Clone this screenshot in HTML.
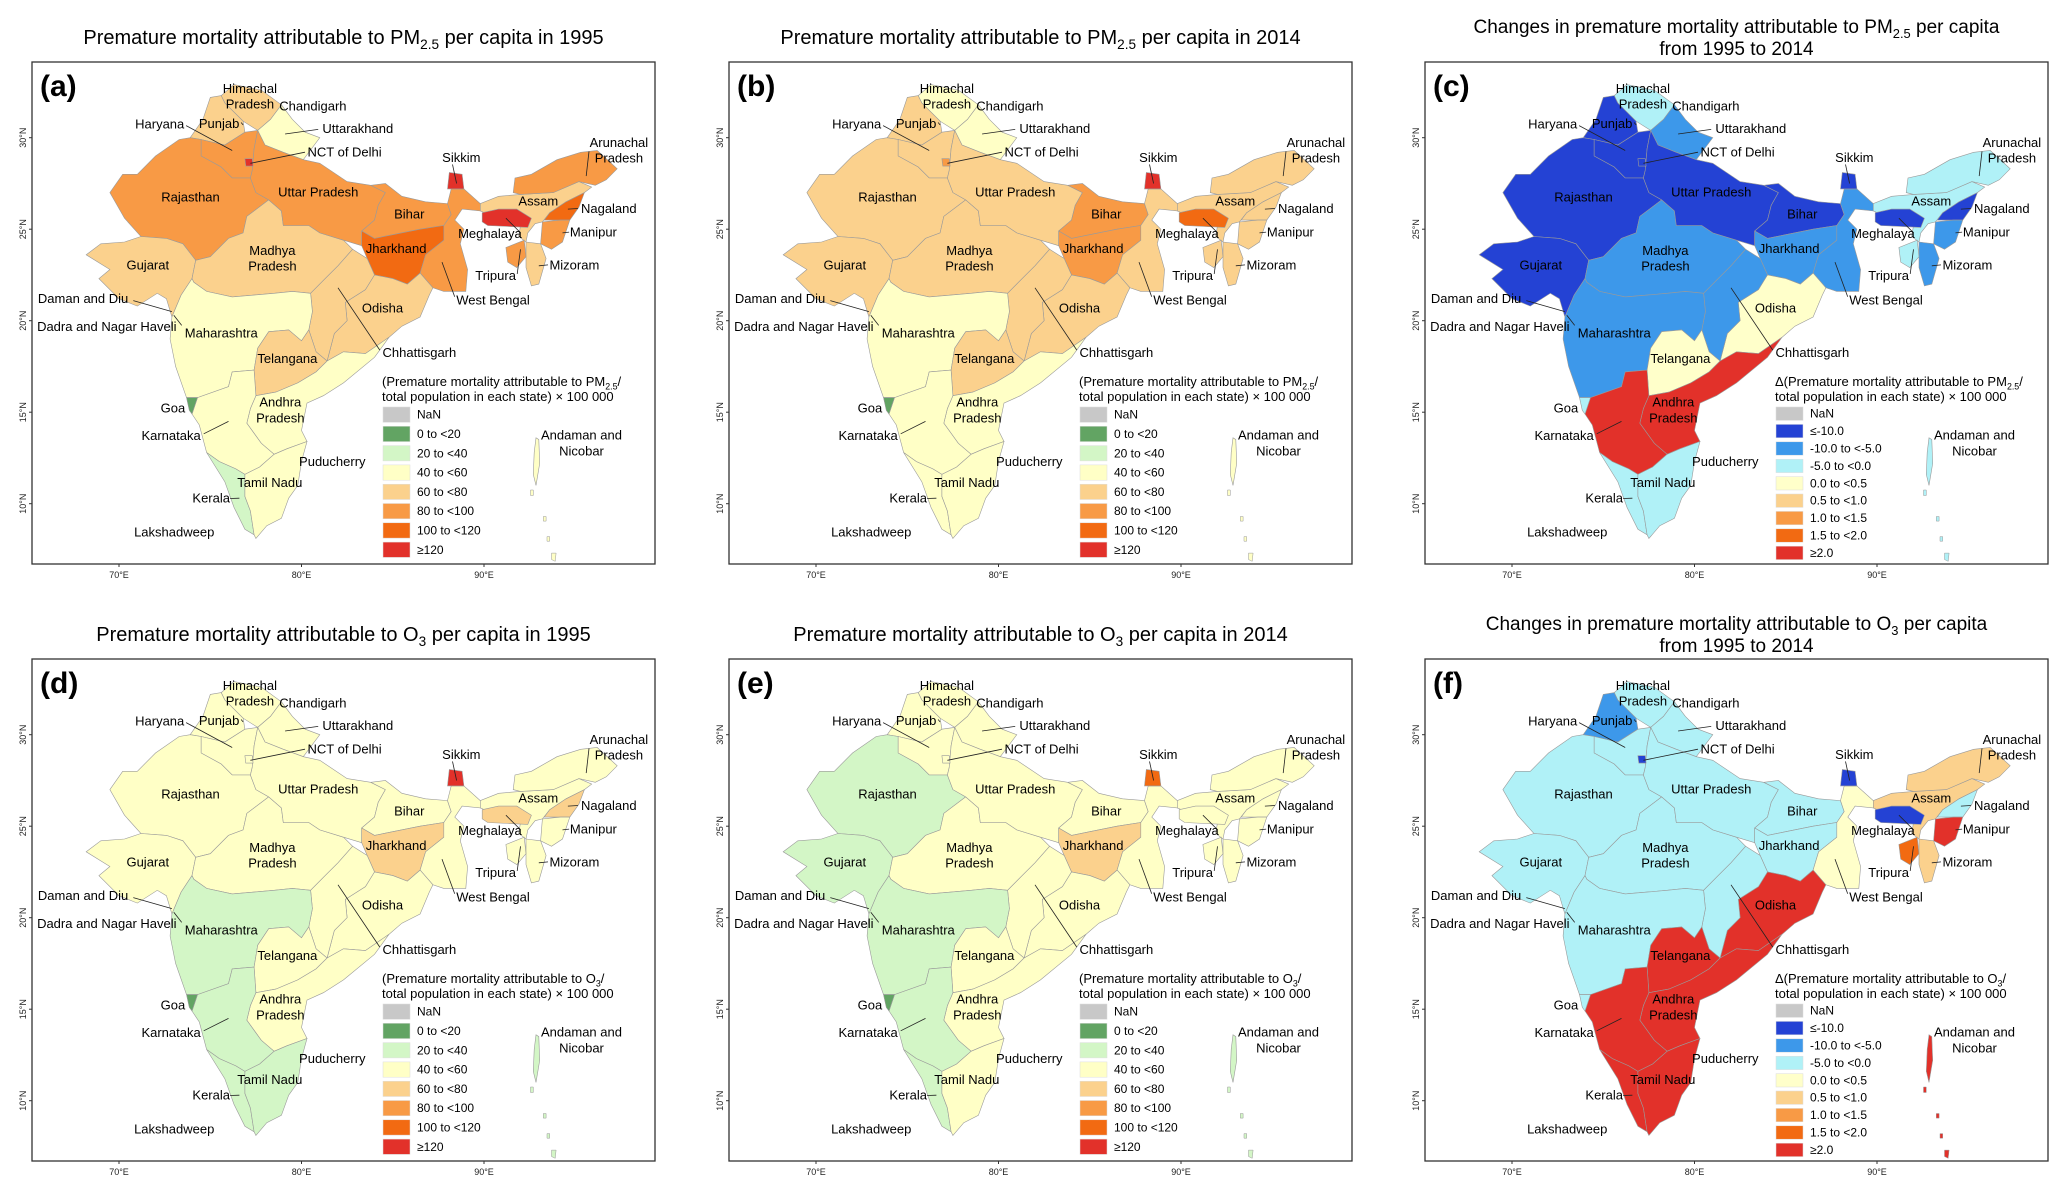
<!DOCTYPE html>
<html><head><meta charset="utf-8"><style>
html,body{margin:0;padding:0;background:#fff;}
svg{display:block;font-family:"Liberation Sans",Arial,sans-serif;}
</style></head><body>
<svg id="fig" width="2067" height="1193" viewBox="0 0 2067 1193" xmlns="http://www.w3.org/2000/svg"></svg>
<script>
// ---- data ----
const stateNames = ["Himachal Pradesh","Punjab","Haryana","Uttarakhand","Rajasthan","Gujarat","Madhya Pradesh","Uttar Pradesh","Bihar","Jharkhand","West Bengal","Sikkim","Odisha","Chhattisgarh","Maharashtra","Telangana","Andhra Pradesh","Karnataka","Goa","Kerala","Tamil Nadu","Assam","Meghalaya","Arunachal Pradesh","Nagaland","Manipur","Mizoram","Tripura","NCT of Delhi","Andaman and Nicobar"];
const pm1995 = [70,70,90,50,90,70,70,90,90,110,90,130,70,70,50,70,50,50,10,30,50,70,130,90,110,90,70,90,130,50];
const pm2014 = [50,70,70,50,70,70,70,70,90,90,70,130,70,70,50,70,50,50,10,50,50,70,110,70,70,70,70,70,90,50];
const pmChange = [-3,-12,-12,-7,-12,-12,-7,-12,-12,-7,-7,-12,0.3,-7,-7,0.3,3,3,-3,-3,-3,-3,-12,-3,-12,-7,-7,-3,-12,-3];
const o31995 = [50,50,50,50,50,50,50,50,50,70,50,130,50,50,30,50,50,30,10,30,30,50,70,50,70,50,50,50,50,30];
const o32014 = [50,50,50,50,30,30,50,50,50,70,50,110,50,50,30,50,50,30,10,30,50,50,50,50,50,50,50,50,50,30];
const o3Change = [-3,-7,-3,-3,-3,-3,-3,-3,-3,-3,0.3,-12,3,-3,-3,3,3,3,-3,3,3,0.7,-12,0.7,-3,3,0.7,1.7,-12,3];
const levelLabels = ["NaN","0 to <20","20 to <40","40 to <60","60 to <80","80 to <100","100 to <120","\u2265120"];
const levelBreaks = [20,40,60,80,100,120];
const changeLabels = ["NaN","\u2264-10.0","-10.0 to <-5.0","-5.0 to <0.0","0.0 to <0.5","0.5 to <1.0","1.0 to <1.5","1.5 to <2.0","\u22652.0"];
const changeBreaks = [-10,-5,0,0.5,1,1.5,2];
const lonTicks = [70,80,90];
const latTicks = [30,25,20,15,10];

const levelColors = ["#c8c8c8","#62a463","#d3f6c6","#ffffc6","#fbd18d","#f89a45","#f26a12","#e2312a"];
const changeColors = ["#c8c8c8","#2442d4","#3d98ea","#b0f1f7","#ffffca","#fbd18d","#f89a45","#f26a12","#e2312a"];

function levelColor(v){let i=0;while(i<levelBreaks.length&&v>=levelBreaks[i])i++;return levelColors[i+1];}
function changeColor(v){let i=0;while(i<changeBreaks.length&&v>=changeBreaks[i])i++;return changeColors[i+1];}

// ---- geometry ----
const geo = {
"Himachal Pradesh":[[75.6,32.3],[76.3,32.9],[77.8,32.6],[78.9,31.8],[78.3,31.0],[77.6,30.4],[76.8,30.9],[75.8,31.9]],
"Punjab":[[73.9,30.0],[74.6,31.0],[75.0,32.2],[75.6,32.3],[75.8,31.9],[76.8,30.9],[76.9,30.3],[75.8,29.6],[74.5,29.9]],
"Haryana":[[74.5,29.9],[75.8,29.6],[76.9,30.3],[77.6,30.4],[77.4,29.4],[77.3,28.2],[77.2,27.8],[76.2,27.8],[75.6,28.4],[74.5,29.0]],
"Uttarakhand":[[77.6,30.4],[78.3,31.0],[78.9,31.8],[79.5,31.0],[80.2,30.3],[81.0,30.0],[80.1,28.8],[79.0,29.2],[78.0,29.6]],
"Rajasthan":[[69.5,27.0],[70.2,28.0],[71.0,28.0],[72.0,29.0],[73.3,29.9],[73.9,30.0],[74.5,29.9],[74.5,29.0],[75.6,28.4],[76.2,27.8],[77.2,27.8],[77.5,27.0],[78.2,26.6],[77.0,25.7],[76.8,24.8],[76.0,24.5],[75.0,23.5],[74.2,23.3],[73.5,24.2],[72.6,24.5],[71.2,24.6],[70.3,25.6]],
"Gujarat":[[68.2,23.6],[69.0,24.2],[70.3,24.3],[71.2,24.6],[72.6,24.5],[73.5,24.2],[74.2,23.3],[74.0,22.3],[73.4,21.4],[72.9,20.2],[72.6,21.2],[72.1,21.5],[71.0,20.8],[70.0,21.2],[68.9,22.3],[69.5,22.8]],
"Madhya Pradesh":[[74.2,23.3],[75.0,23.5],[76.0,24.5],[76.8,24.8],[77.0,25.7],[78.2,26.6],[78.9,26.0],[79.0,25.2],[80.4,25.2],[81.0,24.8],[82.3,24.4],[82.8,23.9],[82.0,23.0],[81.3,22.3],[80.5,21.5],[79.5,21.6],[78.5,21.5],[77.4,21.4],[76.2,21.3],[74.8,21.6],[74.1,22.1],[74.0,22.3]],
"Uttar Pradesh":[[77.6,30.4],[78.0,29.6],[79.0,29.2],[80.1,28.8],[81.0,28.6],[82.5,27.6],[83.8,27.4],[84.6,27.0],[84.2,26.3],[84.0,25.5],[83.3,24.9],[83.3,24.1],[82.3,24.4],[81.0,24.8],[80.4,25.2],[79.0,25.2],[78.9,26.0],[78.2,26.6],[77.5,27.0],[77.2,27.8],[77.3,28.2],[77.4,29.4]],
"Bihar":[[83.8,27.4],[84.6,27.5],[85.5,26.8],[86.8,26.5],[88.0,26.4],[88.2,25.8],[87.8,25.2],[86.5,25.0],[85.0,24.7],[84.0,24.5],[83.3,24.9],[84.0,25.5],[84.2,26.3],[84.6,27.0]],
"Jharkhand":[[83.3,24.1],[83.3,24.9],[84.0,24.5],[85.0,24.7],[86.5,25.0],[87.8,25.2],[87.8,24.4],[86.8,23.6],[86.5,22.6],[85.8,22.0],[85.0,22.3],[84.0,22.5],[83.6,23.4]],
"West Bengal":[[88.2,25.8],[88.0,26.4],[88.2,27.2],[88.9,27.2],[89.8,26.4],[89.8,26.0],[88.8,26.1],[88.4,25.5],[88.9,25.0],[88.7,24.2],[89.1,22.8],[89.0,21.6],[87.8,21.6],[87.2,21.8],[86.5,22.6],[86.8,23.6],[87.8,24.4],[87.8,25.2]],
"Sikkim":[[88.0,27.2],[88.1,28.1],[88.8,28.0],[88.9,27.2]],
"Odisha":[[81.4,17.8],[82.3,18.3],[83.5,18.2],[84.8,19.1],[85.5,19.7],[86.5,20.2],[87.0,21.4],[87.2,21.8],[86.5,22.6],[85.8,22.0],[85.0,22.3],[84.0,22.5],[83.5,21.7],[82.4,21.0],[82.5,20.0],[81.8,19.3]],
"Chhattisgarh":[[82.8,23.9],[83.6,23.4],[84.0,22.5],[83.5,21.7],[82.4,21.0],[82.5,20.0],[81.8,19.3],[81.4,17.8],[80.8,18.3],[80.4,19.5],[80.6,20.5],[80.5,21.5],[81.3,22.3],[82.0,23.0]],
"Maharashtra":[[72.9,20.2],[73.4,21.4],[74.0,22.3],[74.1,22.1],[74.8,21.6],[76.2,21.3],[77.4,21.4],[78.5,21.5],[79.5,21.6],[80.5,21.5],[80.6,20.5],[80.4,19.5],[80.0,18.9],[79.3,19.5],[78.2,19.4],[77.6,18.5],[77.4,17.3],[76.2,17.2],[76.0,16.4],[74.3,15.8],[73.7,15.8],[73.1,17.5],[72.8,19.0]],
"Telangana":[[77.6,18.5],[78.2,19.4],[79.3,19.5],[80.0,18.9],[80.4,19.5],[80.8,18.3],[81.4,17.8],[80.8,17.2],[79.8,16.6],[78.6,16.1],[77.5,15.9],[77.4,17.3]],
"Andhra Pradesh":[[77.5,15.9],[78.6,16.1],[79.8,16.6],[80.8,17.2],[81.4,17.8],[82.3,18.3],[83.5,18.2],[84.8,19.1],[84.0,18.0],[82.3,16.6],[81.2,15.9],[80.3,15.5],[80.0,14.0],[80.3,13.4],[79.2,13.0],[78.5,12.7],[77.8,13.3],[77.0,14.4],[77.2,15.2]],
"Karnataka":[[74.3,15.8],[76.0,16.4],[76.2,17.2],[77.4,17.3],[77.5,15.9],[77.2,15.2],[77.0,14.4],[77.8,13.3],[78.5,12.7],[77.7,12.0],[76.9,11.6],[76.4,11.9],[75.5,12.3],[74.8,12.8],[74.4,14.3],[74.0,14.9]],
"Goa":[[73.7,15.8],[74.3,15.8],[74.0,14.9],[73.85,15.1]],
"Kerala":[[74.8,12.8],[75.5,12.3],[76.4,11.9],[76.9,11.6],[76.9,10.4],[77.2,9.6],[77.4,8.3],[76.9,8.6],[76.3,9.8],[75.8,11.2]],
"Tamil Nadu":[[76.9,11.6],[77.7,12.0],[78.5,12.7],[79.2,13.0],[80.3,13.4],[80.0,12.3],[79.8,11.0],[79.3,10.3],[78.9,9.2],[78.1,8.8],[77.5,8.1],[77.4,8.3],[77.2,9.6],[76.9,10.4]],
"Assam":[[89.8,26.0],[89.8,26.4],[90.8,26.8],[92.0,26.9],[93.8,27.0],[95.2,27.6],[95.9,27.3],[95.5,27.0],[94.5,26.5],[93.6,25.9],[93.2,25.4],[92.8,25.3],[92.4,24.8],[92.3,24.3],[91.9,24.6],[92.0,25.2],[91.5,25.6],[90.5,25.7]],
"Meghalaya":[[89.9,25.9],[90.8,26.1],[91.8,26.1],[92.6,25.6],[92.4,25.1],[90.2,25.2],[89.9,25.4]],
"Arunachal Pradesh":[[91.6,27.0],[91.7,27.8],[92.6,28.0],[94.0,28.8],[95.3,29.2],[96.2,29.3],[97.3,28.3],[96.7,27.7],[96.1,27.4],[95.2,27.6],[93.8,27.0],[92.0,26.9]],
"Nagaland":[[93.6,25.9],[94.5,26.5],[95.5,27.0],[95.2,26.2],[94.7,25.5],[94.2,25.5],[93.3,25.5]],
"Manipur":[[93.2,25.4],[94.2,25.5],[94.7,25.5],[94.3,24.3],[93.7,23.9],[93.1,24.2]],
"Mizoram":[[92.3,24.3],[93.1,24.2],[93.4,23.4],[93.0,22.0],[92.6,21.9],[92.3,22.9]],
"Tripura":[[91.2,24.0],[92.2,24.4],[92.3,23.5],[91.8,22.9],[91.3,23.2]],
"NCT of Delhi":[[76.9,28.85],[77.3,28.85],[77.35,28.45],[76.95,28.45]],
"Andaman and Nicobar":[[92.85,13.6],[93.0,13.5],[93.05,12.2],[92.85,11.0],[92.7,11.6],[92.75,12.8]]
};
const islandsExtra = [
 [[92.55,10.75],[92.7,10.75],[92.7,10.45],[92.55,10.45]],
 [[93.25,9.3],[93.4,9.3],[93.4,9.05],[93.25,9.05]],
 [[93.45,8.2],[93.6,8.2],[93.6,7.95],[93.45,7.95]],
 [[93.7,7.3],[93.95,7.3],[93.9,6.85],[93.7,6.95]]
];

// label positions: [text, fraction of frame width, fraction of frame height]
const labels = [
 ["Himachal",565,232],["Pradesh",565,274],["Chandigarh",708,278],["Haryana",360,326],["Punjab",495,324],["Uttarakhand",810,338],["NCT of Delhi",780,400],["Sikkim",1045,414],["Arunachal",1403,374],["Pradesh",1403,415],["Rajasthan",430,518],["Uttar Pradesh",720,504],["Bihar",927,563],["Assam",1220,528],["Nagaland",1380,548],["Meghalaya",1110,614],["Manipur",1345,610],["Jharkhand",897,653],["Madhya",616,658],["Pradesh",616,699],["Gujarat",333,697],["Mizoram",1302,696],["Tripura",1123,724],["Daman and Diu",186,785],["West Bengal",1117,788],["Odisha",866,810],["Dadra and Nagar Haveli",240,858],["Maharashtra",500,875],["Chhattisgarh",950,926],["Telangana",650,942],["Goa",390,1072],["Andhra",634,1056],["Pradesh",634,1098],["Karnataka",386,1145],["Andaman and",1318,1143],["Nicobar",1318,1185],["Puducherry",752,1213],["Tamil Nadu",610,1268],["Kerala",477,1308],["Lakshadweep",393,1398]
];
// leader lines: label anchor -> map point (lon,lat)
const leaders = [
 [[420,330],[76.2,29.3]],[[545,322],[76.8,30.7]],[[720,340],[79.1,30.2]],[[690,400],[77.2,28.6]],
 [[1025,432],[88.5,27.5]],[[1335,398],[95.6,27.9]],[[1310,548],[94.6,26.1]],[[1290,610],[94.3,24.8]],
 [[1180,612],[91.2,25.6]],[[1242,696],[93.0,23.0]],[[1172,720],[92.0,23.9]],[[1030,780],[87.7,23.2]],
 [[860,920],[82.0,21.8]],[[300,790],[72.9,20.5]],[[410,855],[73.0,20.3]],[[460,1140],[76.0,14.5]],[[520,1310],[76.6,10.3]]
];

const NS="http://www.w3.org/2000/svg";
const svg=document.getElementById('fig');
function mk(tag,attrs,parent){const e=document.createElementNS(NS,tag);for(const k in attrs)e.setAttribute(k,attrs[k]);(parent||svg).appendChild(e);return e;}

const FW=623, FH=502;
function xScale(lon){return 87+(lon-70)*18.25;}
function yScale(lat){return 75.7+(30-lat)*18.3;}
function lx(zx){return (zx-70)*FW/1415;}
function ly(zy){return (zy-163)*FH/1319;}

const panels=[
 {id:"a",x:32,y:62,vals:pm1995,change:false,sp:"PM",sub:"2.5",title:["Premature mortality attributable to PM|2.5| per capita in 1995"]},
 {id:"b",x:729,y:62,vals:pm2014,change:false,sp:"PM",sub:"2.5",title:["Premature mortality attributable to PM|2.5| per capita in 2014"]},
 {id:"c",x:1425,y:62,vals:pmChange,change:true,sp:"PM",sub:"2.5",title:["Changes in premature mortality attributable to PM|2.5| per capita","from 1995 to 2014"]},
 {id:"d",x:32,y:659,vals:o31995,change:false,sp:"O",sub:"3",title:["Premature mortality attributable to O|3| per capita in 1995"]},
 {id:"e",x:729,y:659,vals:o32014,change:false,sp:"O",sub:"3",title:["Premature mortality attributable to O|3| per capita in 2014"]},
 {id:"f",x:1425,y:659,vals:o3Change,change:true,sp:"O",sub:"3",title:["Changes in premature mortality attributable to O|3| per capita","from 1995 to 2014"]}
];

function richText(parent,str,x,y,size,anchor){
  const t=mk('text',{x:x,y:y,'font-size':size,'text-anchor':anchor||'middle',fill:'#000'},parent);
  const parts=str.split('|');
  parts.forEach((p,i)=>{
    const s=mk('tspan',{},t);
    if(i%2===1){s.setAttribute('font-size',size*0.68);s.setAttribute('dy',size*0.25);}
    else if(i>0){s.setAttribute('dy',-size*0.25);}
    s.textContent=p;
  });
  return t;
}
function pts(arr){return arr.map(c=>xScale(c[0]).toFixed(1)+','+yScale(c[1]).toFixed(1)).join(' ');}

panels.forEach(p=>{
  const g=mk('g',{transform:`translate(${p.x},${p.y})`});
  
  
  const tg=mk('g',{},g);
  
  
  if(p.title.length===1){richText(tg,p.title[0],FW/2,-18,20);}
  else{richText(tg,p.title[0],FW/2,-29,19);richText(tg,p.title[1],FW/2,-7,19);}
  const fr=mk('rect',{x:0,y:0,width:FW,height:FH,fill:'#fff',stroke:'#333','stroke-width':1.3},g);
  
  
  const mg=mk('g',{},g);
  
  
  stateNames.forEach((n,i)=>{
    const col=p.change?changeColor(p.vals[i]):levelColor(p.vals[i]);
    const poly=mk('polygon',{points:pts(geo[n]),fill:col,stroke:'#9a9a9a','stroke-width':0.6},mg);
    
    
    if(n==="Andaman and Nicobar"){
      islandsExtra.forEach(isl=>{
        const p2=mk('polygon',{points:pts(isl),fill:col,stroke:'#9a9a9a','stroke-width':0.5},mg);
        
        
      });
    }
  });
  const ldg=mk('g',{stroke:'#222','stroke-width':0.8},g);
  
  
  leaders.forEach(l=>{
    mk('line',{x1:lx(l[0][0]).toFixed(1),y1:ly(l[0][1]).toFixed(1),x2:xScale(l[1][0]).toFixed(1),y2:yScale(l[1][1]).toFixed(1)},ldg);
  });
  const lg=mk('g',{},g);
  
  
  labels.forEach(l=>{
    const t=mk('text',{x:lx(l[1]).toFixed(1),y:(ly(l[2])+4.5).toFixed(1),'font-size':13,'text-anchor':'middle',fill:'#000'},lg);
    
    
    t.textContent=l[0];
  });
  const pl=mk('text',{x:8,y:34,'font-size':30,'font-weight':'bold',fill:'#000'},g);
  
  
  pl.textContent='('+p.id+')';
  lonTicks.forEach(v=>{
    const t=mk('text',{x:xScale(v),y:FH+14,'font-size':9,'text-anchor':'middle',fill:'#222'},g);
    
    
    t.textContent=v+'°E';
    mk('line',{x1:xScale(v),x2:xScale(v),y1:FH,y2:FH+3,stroke:'#333'},g);
  });
  latTicks.forEach(v=>{
    const y=yScale(v);
    const t=mk('text',{x:-6,y:y,'font-size':9,'text-anchor':'middle',fill:'#222',transform:`rotate(-90 -6 ${y})`},g);
    
    
    t.textContent=v+'°N';
    mk('line',{x1:-3,x2:0,y1:y,y2:y,stroke:'#333'},g);
  });
  const leg=mk('g',{transform:'translate(350,324)'},g);
  
  
  const pre=p.change?'\u0394(Premature mortality attributable to ':'(Premature mortality attributable to ';
  richText(leg,pre+p.sp+'|'+p.sub+'|/',0,0,13,'start');
  richText(leg,'total population in each state) \u00d7 100 000',0,15,13,'start');
  const labs=p.change?changeLabels:levelLabels;
  const cols=p.change?changeColors:levelColors;
  const step=p.change?17.4:19.3;
  labs.forEach((lb,i)=>{
    const y=21+i*step;
    const r=mk('rect',{x:1,y:y,width:27,height:step-4,fill:cols[i],stroke:'#ddd','stroke-width':0.5},leg);
    
    
    const t=mk('text',{x:35,y:y+step/2+2,'font-size':12,fill:'#000'},leg);
    
    
    t.textContent=lb;
  });
});
</script>
</body></html>
